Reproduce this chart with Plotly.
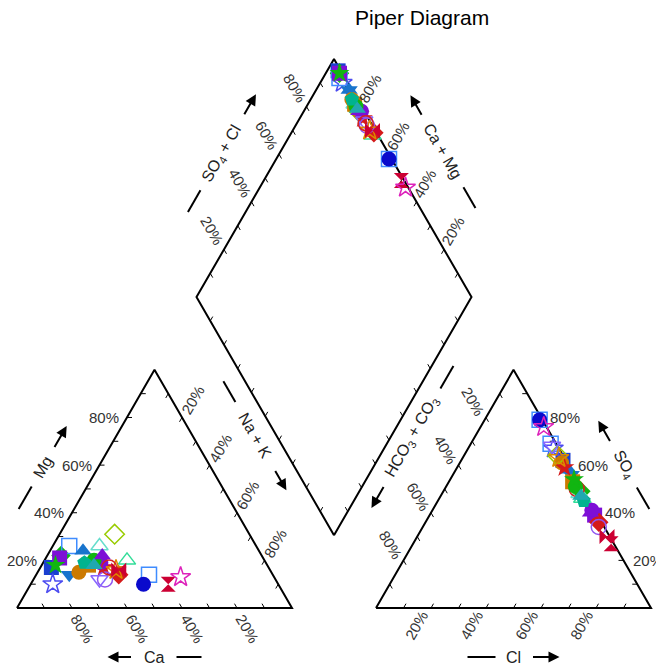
import numpy as np
import plotly.graph_objects as go

# ---------------- data (percent of meq/L) ----------------
ca   = [79, 82, 73, 68, 74, 64, 74, 70, 57, 49, 50, 56, 45, 49, 40, 34, 65, 60, 60, 62, 64, 56, 58, 55, 62, 66, 77, 58, 63]
mg   = [17, 10, 22, 26, 21, 24, 14, 15, 26, 31, 20, 14, 14, 10, 10, 13, 18, 17, 19, 12, 12, 16, 17, 16, 20, 19, 18, 22, 18]
nak  = [4, 8, 5, 6, 5, 12, 12, 15, 17, 20, 30, 30, 41, 41, 50, 53, 17, 23, 21, 26, 24, 28, 25, 29, 18, 15, 5, 20, 19]
hco3 = [1, 2, 1, 2, 1, 1, 1, 2, 2, 2, 2, 1, 1, 1, 1, 1, 2, 2, 1, 2, 2, 2, 2, 1, 2, 2, 1, 2, 2]
so4  = [62, 67, 49, 69, 39, 58, 56, 61, 48, 64, 46, 36, 79, 79, 27, 76, 53, 59, 41, 34, 68, 63, 50, 30, 51, 45, 54, 40, 47]
cl   = [37, 31, 50, 29, 60, 41, 43, 37, 50, 34, 52, 63, 20, 20, 72, 23, 45, 39, 58, 64, 30, 35, 48, 69, 47, 53, 45, 58, 51]

symbols = ["square", "star-open", "diamond", "square-open", "square", "triangle-up", "triangle-down",
           "circle", "triangle-up-open", "diamond-open", "triangle-up-open", "diamond", "square-open",
           "circle", "hourglass", "star-open", "square", "star", "circle", "circle-open",
           "triangle-down-open", "star-open", "circle-open", "bowtie", "circle", "pentagon", "star",
           "triangle-up", "triangle-up"]
colors = ["#1a3fd0", "#4b4bf0", "#11b511", "#3f8cff", "#7d0fd6", "#1874cd", "#1874cd",
          "#cc7a00", "#66ddcc", "#99cc00", "#33dd99", "#d41a1a", "#3f8cff",
          "#0a0acc", "#cc0033", "#dd22bb", "#cc7a00", "#d41a1a", "#7d0fd6", "#9055f0",
          "#8866ff", "#dd8800", "#d42020", "#cc0033", "#11b511", "#00b38f", "#11b511",
          "#7d0fd6", "#20a8b0"]

tick_vals = [10, 20, 30, 40, 50, 60, 70, 80, 90]
label_vals = [20, 40, 60, 80]

# ---------------- geometry ----------------
S3 = np.sqrt(3) / 2
PX = 1 / 275.0          # one screen pixel in triangle-side units
GAP = 84 * PX
OX = 1 + GAP
FIG_W, FIG_H = 656, 665
X0_SCR, Y0_SCR = 17, 608   # screen position of the Ca vertex


def P(a, b):
    return np.array([a, b], float)


LT = [P(0, 0), P(1, 0), P(0.5, S3)]
RT = [P(OX, 0), P(OX + 1, 0), P(OX + 0.5, S3)]
B = P(1 + GAP / 2, GAP * S3)
L = B + P(-0.5, S3)
T = B + P(0, 2 * S3)
R = B + P(0.5, S3)


def cation_xy(c, m, n):
    t = c + m + n
    return (n + 0.5 * m) / t, S3 * m / t


def anion_xy(h, s, c):
    t = h + s + c
    return OX + (c + 0.5 * s) / t, S3 * s / t


def diamond_xy(c, m, n, h, s, cc):
    u = (c + m) / (c + m + n)
    v = (s + cc) / (h + s + cc)
    p = B + u * P(-0.5, S3) + v * P(0.5, S3)
    return p[0], p[1]


fig = go.Figure()

# frames
fx, fy = [], []
for poly in [LT, RT, [B, R, T, L]]:
    pts = poly + [poly[0]]
    fx += [p[0] for p in pts] + [None]
    fy += [p[1] for p in pts] + [None]
fig.add_trace(go.Scatter(x=fx, y=fy, mode="lines", line=dict(color="black", width=2),
                         hoverinfo="skip", showlegend=False))

# ticks
edges = [
    (LT[0], LT[2], P(1, 0)),
    (LT[1], LT[0], P(-0.5, S3)),
    (LT[2], LT[1], P(-0.5, -S3)),
    (RT[0], RT[1], P(0.5, S3)),
    (RT[1], RT[2], P(-1, 0)),
    (RT[2], RT[0], P(0.5, -S3)),
    (L, T, P(0.5, -S3)),
    (R, T, P(-0.5, -S3)),
    (B, L, P(0.5, S3)),
    (B, R, P(-0.5, S3)),
]
tx, ty = [], []
TL = 5 * PX
for P0, P1, d in edges:
    for v in tick_vals:
        p = P0 + v / 100 * (P1 - P0)
        q = p + d * TL
        tx += [p[0], q[0], None]
        ty += [p[1], q[1], None]
fig.add_trace(go.Scatter(x=tx, y=ty, mode="lines", line=dict(color="black", width=1),
                         hoverinfo="skip", showlegend=False))

annotations = []
LBL_FONT = dict(family="Liberation Sans, Arial", size=15, color="#333333")
TTL_FONT = dict(family="Liberation Sans, Arial", size=16, color="#222222")

# tick labels: (P0, P1, screen offset px (dx, dy-down), angle, xanchor)
label_edges = [
    (LT[0], LT[2], (-6, 0), 0, "right"),
    (LT[1], LT[0], (10.5, 20), 60, "center"),
    (LT[2], LT[1], (10.5, -17), -60, "center"),
    (RT[0], RT[1], (-15, 17), -60, "center"),
    (RT[1], RT[2], (7, 0), 0, "left"),
    (RT[2], RT[0], (-13, -16), 60, "center"),
    (L, T, (-12, -19), 60, "center"),
    (R, T, (8.5, -18), -60, "center"),
]
for P0, P1, (dx, dy), ang, xa in label_edges:
    for v in label_vals:
        p = P0 + v / 100 * (P1 - P0)
        annotations.append(dict(x=p[0] + dx * PX, y=p[1] - dy * PX, xref="x", yref="y",
                                text=f"{v}%", showarrow=False, textangle=ang,
                                xanchor=xa, yanchor="middle", font=LBL_FONT))

# axis titles with dash and arrow
dash_x, dash_y = [], []
titles = [
    (LT[0], LT[2], 0.489, P(-S3, 0.5), 48, "Mg", -60, 22, 26),
    (LT[1], LT[0], 0.5, P(0, -1), 49, "Ca", 0, 22, 25),
    (LT[2], LT[1], 0.39, P(S3, 0.5), 54, "Na + K", 60, 39, 24),
    (RT[0], RT[1], 0.5, P(0, -1), 49, "Cl", 0, 18, 28),
    (RT[1], RT[2], 0.5, P(S3, 0.5), 48, "SO<sub>4</sub>", 60, 26, 25),
    (RT[2], RT[0], 0.395, P(-S3, 0.5), 54, "HCO<sub>3</sub> + CO<sub>3</sub>", -60, 56, 26),
    (L, T, 0.5, P(-S3, 0.5), 50, "SO<sub>4</sub> + Cl", -60, 43, 25),
    (R, T, 0.51, P(S3, 0.5), 48, "Ca + Mg", 60, 41, 24),
]
for P0, P1, frac, nrm, perp, text, ang, gap, length in titles:
    d = (P1 - P0) / np.linalg.norm(P1 - P0)
    c = P0 + frac * (P1 - P0) + nrm * perp * PX
    annotations.append(dict(x=c[0], y=c[1], xref="x", yref="y", text=text, showarrow=False,
                            textangle=ang, xanchor="center", yanchor="middle", font=TTL_FONT))
    a = c - d * (gap + length) * PX
    b = c - d * gap * PX
    dash_x += [a[0], b[0], None]
    dash_y += [a[1], b[1], None]
    tail = c + d * gap * PX
    tip = c + d * (gap + length) * PX
    annotations.append(dict(x=tip[0], y=tip[1], ax=tail[0], ay=tail[1], xref="x", yref="y",
                            axref="x", ayref="y", text="", showarrow=True, arrowhead=2,
                            arrowsize=1.1, arrowwidth=2, arrowcolor="black", standoff=0))
fig.add_trace(go.Scatter(x=dash_x, y=dash_y, mode="lines", line=dict(color="black", width=2),
                         hoverinfo="skip", showlegend=False))

# samples
for i in range(len(ca)):
    cx, cy = cation_xy(ca[i], mg[i], nak[i])
    axx, ayy = anion_xy(hco3[i], so4[i], cl[i])
    dx, dy = diamond_xy(ca[i], mg[i], nak[i], hco3[i], so4[i], cl[i])
    openm = symbols[i].endswith("-open")
    fig.add_trace(go.Scatter(
        x=[cx, axx, dx], y=[cy, ayy, dy], mode="markers", showlegend=False,
        marker=dict(symbol=symbols[i], size=15, color=colors[i],
                    line=dict(color=colors[i], width=1.5 if openm else 0))))

# title
annotations.append(dict(x=(422 - X0_SCR) * PX, y=(Y0_SCR - 17) * PX, xref="x", yref="y",
                        text="Piper Diagram", showarrow=False, xanchor="center", yanchor="middle",
                        font=dict(family="Liberation Sans, Arial", size=21, color="black")))

fig.update_layout(
    width=FIG_W, height=FIG_H, margin=dict(l=0, r=0, t=0, b=0),
    paper_bgcolor="white", plot_bgcolor="white", showlegend=False,
    xaxis=dict(range=[-X0_SCR * PX, (FIG_W - X0_SCR) * PX], visible=False, fixedrange=True),
    yaxis=dict(range=[-(FIG_H - Y0_SCR) * PX, Y0_SCR * PX], visible=False, fixedrange=True),
    annotations=annotations,
)
fig.write_html("out.html", config={"displayModeBar": False},
               post_script="document.body.style.margin='0px';document.body.style.overflow='hidden';")
